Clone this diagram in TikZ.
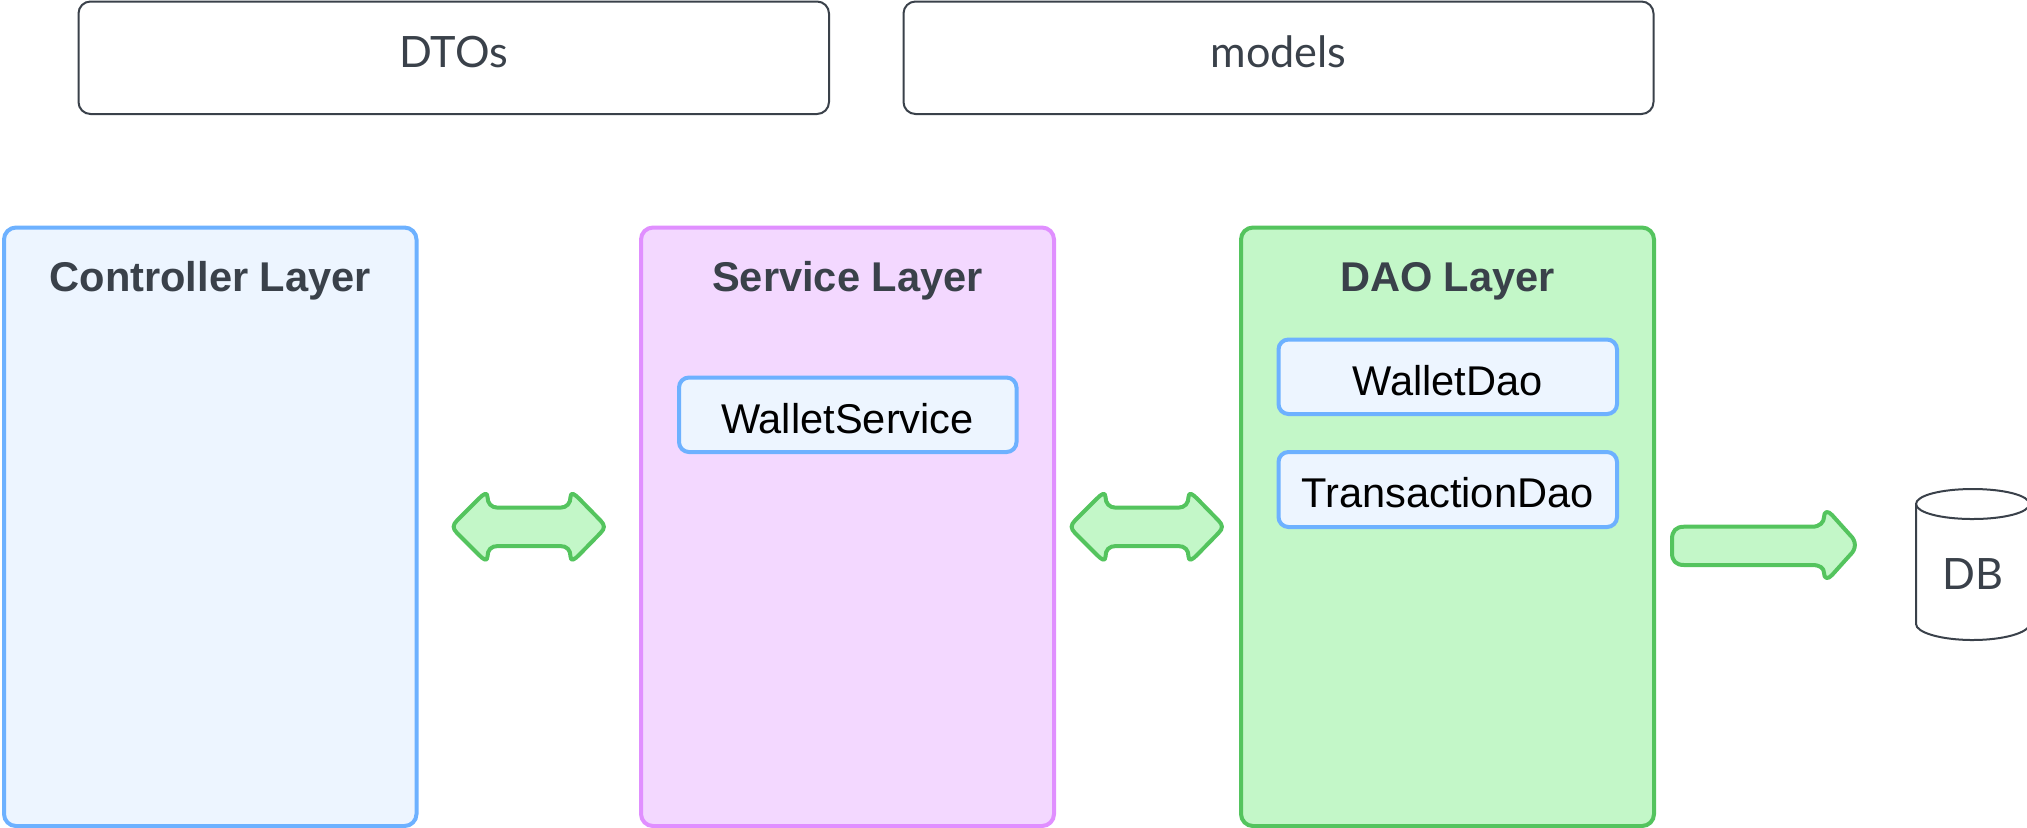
\documentclass[tikz,border=0pt]{standalone}
\usepackage{fontspec}
\setmainfont{Liberation Sans}
\newfontfamily\lightfont{Lato}
\definecolor{ink}{HTML}{3A414A}
\definecolor{bluestroke}{HTML}{6DB1FF}
\definecolor{bluefill}{HTML}{EDF5FF}
\definecolor{purplestroke}{HTML}{E08FFF}
\definecolor{purplefill}{HTML}{F3D8FF}
\definecolor{greenstroke}{HTML}{54C45E}
\definecolor{greenfill}{HTML}{C3F7C8}
\tikzset{
  x=0.5pt,y=-0.5pt,
  frame/.style={draw=ink,line width=1pt,rounded corners=6pt,fill=white},
  layer/.style={line width=2pt,rounded corners=6pt},
  bluelayer/.style={layer,draw=bluestroke,fill=bluefill},
  purplelayer/.style={layer,draw=purplestroke,fill=purplefill},
  greenlayer/.style={layer,draw=greenstroke,fill=greenfill},
  inner/.style={line width=2pt,rounded corners=5pt,draw=bluestroke,fill=bluefill},
  plainlabel/.style={anchor=base,inner sep=0pt,text=ink,font=\lightfont\fontsize{21.6}{24}\selectfont},
  titlelabel/.style={anchor=base,inner sep=0pt,text=ink,font=\bfseries\fontsize{20.8}{24}\selectfont},
  innerlabel/.style={anchor=base,inner sep=0pt,text=black,font=\fontsize{20.8}{24}\selectfont},
  flowarrow/.style={draw=greenstroke,fill=greenfill,line width=2pt,line join=round},
}
\begin{document}
\begin{tikzpicture}
\useasboundingbox (0,0) rectangle (2027,827);
\clip (0,0) rectangle (2027,827);
% top boxes
\draw[frame] (78.5,1.5) rectangle (829,114);
\draw[frame] (903.5,1.5) rectangle (1653.5,114);
\node[plainlabel] (dtos) at (453.7,67) {DTOs};
\node[plainlabel] (models) at (1278.5,67) {models};
% layers
\draw[bluelayer] (4,227.5) rectangle (416.5,826);
\draw[purplelayer] (641,227.5) rectangle (1054,826);
\draw[greenlayer] (1241,227.5) rectangle (1654,826);
\node[titlelabel] (ctrl) at (210.3,291) {Controller Layer};
\node[titlelabel] (svc) at (847.5,291) {Service Layer};
\node[titlelabel] (dao) at (1447.5,291) {DAO Layer};
% inner boxes
\draw[inner] (679,377.5) rectangle (1016.5,452);
\draw[inner] (1278.5,339.5) rectangle (1617,414);
\draw[inner] (1278.5,452) rectangle (1617,527);
\node[innerlabel] (ws) at (847.5,433) {WalletService};
\node[innerlabel] (wd) at (1447.5,395) {WalletDao};
\node[innerlabel] (td) at (1447.5,507.5) {TransactionDao};
% double arrows
\foreach \dx in {0,618}{
\begin{scope}[xshift=\dx*0.5pt]
\draw[flowarrow]
  (457,520.5) -- (479,498.5)
  .. controls (483,494.5) and (487.5,491) .. (487.5,497)
  .. controls (487.5,503) and (491,507.7) .. (498,507.7)
  -- (560,507.7)
  .. controls (567,507.7) and (570.5,503) .. (570.5,497)
  .. controls (570.5,491) and (575,494.5) .. (579,498.5)
  -- (600.5,520.5)
  .. controls (605,525) and (605,528.5) .. (600.5,533)
  -- (579,555)
  .. controls (575,559) and (570.5,562.5) .. (570.5,556.5)
  .. controls (570.5,550) and (567,546) .. (560,546)
  -- (498,546)
  .. controls (491,546) and (487.5,550) .. (487.5,556.5)
  .. controls (487.5,562.5) and (483,559) .. (479,555)
  -- (457,533)
  .. controls (452.5,528.5) and (452.5,525) .. (457,520.5)
  -- cycle;
\end{scope}}
% one-way arrow
\draw[flowarrow]
  (1684,526.7) -- (1812,526.7)
  .. controls (1820,526.7) and (1824,522) .. (1824,517)
  .. controls (1824,511) and (1828,510.5) .. (1832,515)
  -- (1850,535)
  .. controls (1856.5,541) and (1856.5,549) .. (1850,555)
  -- (1832,575)
  .. controls (1828,579.5) and (1824,579) .. (1824,573)
  .. controls (1824,568) and (1820,565) .. (1812,565)
  -- (1684,565)
  .. controls (1676,565) and (1672,561) .. (1672,553)
  -- (1672,539)
  .. controls (1672,531) and (1676,526.7) .. (1684,526.7)
  -- cycle;
% cylinder
\draw[draw=ink,line width=1pt,fill=white]
  (1916,504) -- (1916,624)
  .. controls (1916,632.5) and (1941,640) .. (1972.7,640)
  .. controls (2004,640) and (2029.4,632.5) .. (2029.4,624)
  -- (2029.4,504)
  .. controls (2029.4,495.5) and (2004,489) .. (1972.7,489)
  .. controls (1941,489) and (1916,495.5) .. (1916,504) -- cycle;
\draw[draw=ink,line width=1pt]
  (1916,504) .. controls (1916,512.5) and (1941,519) .. (1972.7,519)
  .. controls (2004,519) and (2029.4,512.5) .. (2029.4,504);
\node[plainlabel] (db) at (1972.7,589) {DB};
\end{tikzpicture}
\end{document}
